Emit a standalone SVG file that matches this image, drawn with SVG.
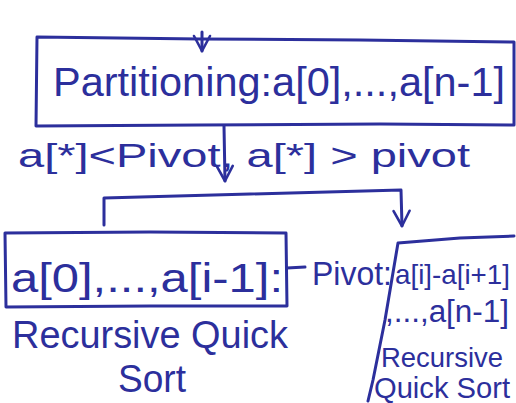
<svg xmlns="http://www.w3.org/2000/svg" width="516" height="403" viewBox="0 0 516 403">
<defs>
<style>
.ink{fill:none;stroke:#2c2f9c;stroke-width:3;stroke-linecap:round;stroke-linejoin:round}
.t{fill:#2c2f9c;font-family:"Liberation Sans","DejaVu Sans",sans-serif}
</style>
<marker id="v" viewBox="0 0 20 20" refX="17" refY="10" markerWidth="20" markerHeight="20" markerUnits="userSpaceOnUse" orient="auto">
<path d="M2,2 L17,10 L2,18" fill="none" stroke="#2c2f9c" stroke-width="2.6" stroke-linecap="round" stroke-linejoin="round"/>
</marker>
</defs>
<rect width="516" height="403" fill="#fff"/>
<g id="partition">
<path class="ink" d="M37,37 L200,39 L360,40 L514,42 L514,125 L380,124 L200,125 L36,126 Z"/>
<text class="t" x="53" y="96" font-size="41" textLength="452" lengthAdjust="spacingAndGlyphs">Partitioning:a[0],...,a[n-1]</text>
</g>
<g id="left">
<path class="ink" d="M5,233 L150,232 L286,233 L287,306 L150,306 L6,307 Z"/>
<text class="t" x="11" y="292" font-size="40" textLength="272" lengthAdjust="spacingAndGlyphs">a[0],...,a[i-1]:</text>
<text class="t" x="12" y="348" font-size="38" textLength="276" lengthAdjust="spacingAndGlyphs">Recursive Quick</text>
<text class="t" x="118" y="392" font-size="38" textLength="68" lengthAdjust="spacingAndGlyphs">Sort</text>
</g>
<g id="pivot">
<text class="t" x="312" y="285" font-size="34" textLength="80" lengthAdjust="spacingAndGlyphs">Pivot:</text>
</g>
<g id="right">
<path class="ink" d="M514,236 L460,238 L398,243 L385,320 L373,380 L368,401"/>
<text class="t" x="395" y="284" font-size="28" textLength="115" lengthAdjust="spacingAndGlyphs">a[i]-a[i+1]</text>
<text class="t" x="385" y="322" font-size="31" textLength="124" lengthAdjust="spacingAndGlyphs">,...,a[n-1]</text>
<text class="t" x="381" y="367" font-size="27" textLength="122" lengthAdjust="spacingAndGlyphs">Recursive</text>
<text class="t" x="374" y="398" font-size="29" textLength="136" lengthAdjust="spacingAndGlyphs">Quick Sort</text>
</g>
<g id="condition">
<text class="t" x="18" y="167" font-size="34" textLength="452" lengthAdjust="spacingAndGlyphs">a[*]&lt;Pivot, a[*] &gt; pivot</text>
</g>
<g id="connectors">
<path class="ink" d="M202,32 L202,51" marker-end="url(#v)"/>
<path class="ink" d="M224,126 L225,181" marker-end="url(#v)"/>
<path class="ink" d="M104,225 L104,198 L250,194 L401,190 L402,226" marker-end="url(#v)"/>
<path class="ink" d="M287,268 L305,267"/>
</g>
</svg>
